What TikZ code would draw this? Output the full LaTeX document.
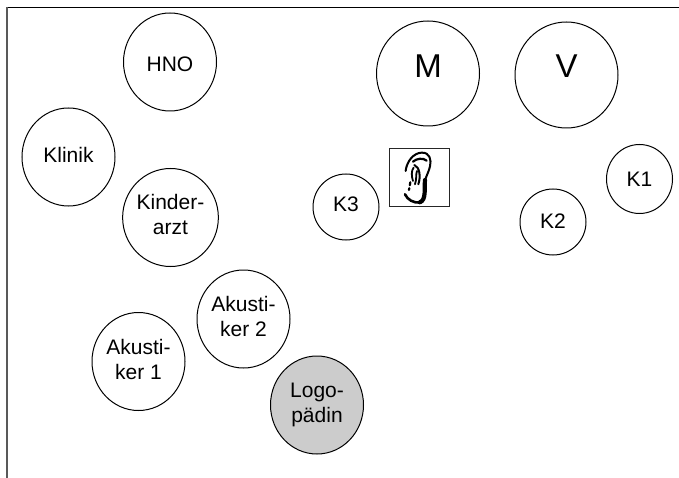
\documentclass[tikz,border=0pt]{standalone}
\usepackage{fontspec}
\setmainfont{Liberation Sans}
\usetikzlibrary{shapes.geometric}
\tikzset{
    bubble/.style={draw, ellipse, line width=1pt, inner sep=0pt, align=center, font=\fontsize{21}{25}\selectfont, minimum width=93pt, minimum height=98pt},
    small/.style={bubble, minimum width=66pt, minimum height=66pt},
    big/.style={bubble, minimum width=103pt, minimum height=105pt, text depth=14pt, font=\fontsize{33}{34}\selectfont},
    earline/.style={black, line cap=round, line join=round}
}
\begin{document}
\begin{tikzpicture}[x=1pt, y=-1pt]
    \useasboundingbox (0, 0) rectangle (679, 478);
    \draw[line width=1.2pt] (6, 7.5) -- (679, 7.5);
    \draw[line width=2.2pt, black!65] (7, 7) -- (7, 478);
    \node at (170, 62) [bubble, text height=20pt] (hno) {HNO};
    \node at (428, 73.5) [big] (m) {M};
    \node at (566.5, 75) [big, minimum height=106pt, text depth=18pt] (v) {V};
    \node at (68.5, 157) [bubble, text depth=4pt] (klinik) {Klinik};
    \node at (170.5, 217.5) [bubble, text depth=7pt] (kinderarzt) {Kinder-\\arzt};
    \node at (346, 207) [small, text depth=6pt] (k3) {K3};
    \node at (553, 222) [small, text depth=2pt] (k2) {K2};
    \node at (639.5, 179) [small, minimum height=69pt] (k1) {K1};
    \node at (243.5, 319) [bubble, text depth=6pt] (akustiker2) {Akusti-\\ker 2};
    \node at (138.5, 361.5) [bubble, text depth=5pt] (akustiker1) {Akusti-\\ker 1};
    \node at (317, 405) [bubble, fill=black!20] (logo) {Logo-\\pädin};
    \node at (419, 178) [draw, line width=1pt, black!85, minimum width=60pt, minimum height=58pt] (ear) {};
    % ear
    \begin{scope}[shift={(385, 145)}, x=0.333pt, y=-0.333pt]
        \draw[earline, line width=2pt] (62, 78) .. controls (65, 50) and (85, 24) .. (110, 23) .. controls (135, 22) and (140, 45) .. (135, 65) .. controls (130, 85) and (122, 95) .. (120, 110);
        \draw[earline, line width=4.2pt] (120, 105) .. controls (118, 130) and (124, 165) .. (105, 172);
        \draw[earline, line width=2.6pt] (105, 173) .. controls (85, 174) and (68, 165) .. (60, 148);
        \draw[earline, line width=2.2pt] (84, 50) .. controls (95, 40) and (115, 38) .. (125, 47);
        \draw[earline, line width=2pt] (88, 60) .. controls (104, 66) and (108, 95) .. (100, 118);
        \draw[earline, line width=1.8pt] (86, 68) .. controls (78, 78) and (80, 95) .. (84, 108);
        \draw[earline, line width=1.8pt] (96, 78) .. controls (92, 90) and (96, 100) .. (90, 118);
        \draw[earline, line width=2.2pt, dash pattern=on 3pt off 3pt] (76, 112) -- (72, 135);
    \end{scope}
\end{tikzpicture}
\end{document}
